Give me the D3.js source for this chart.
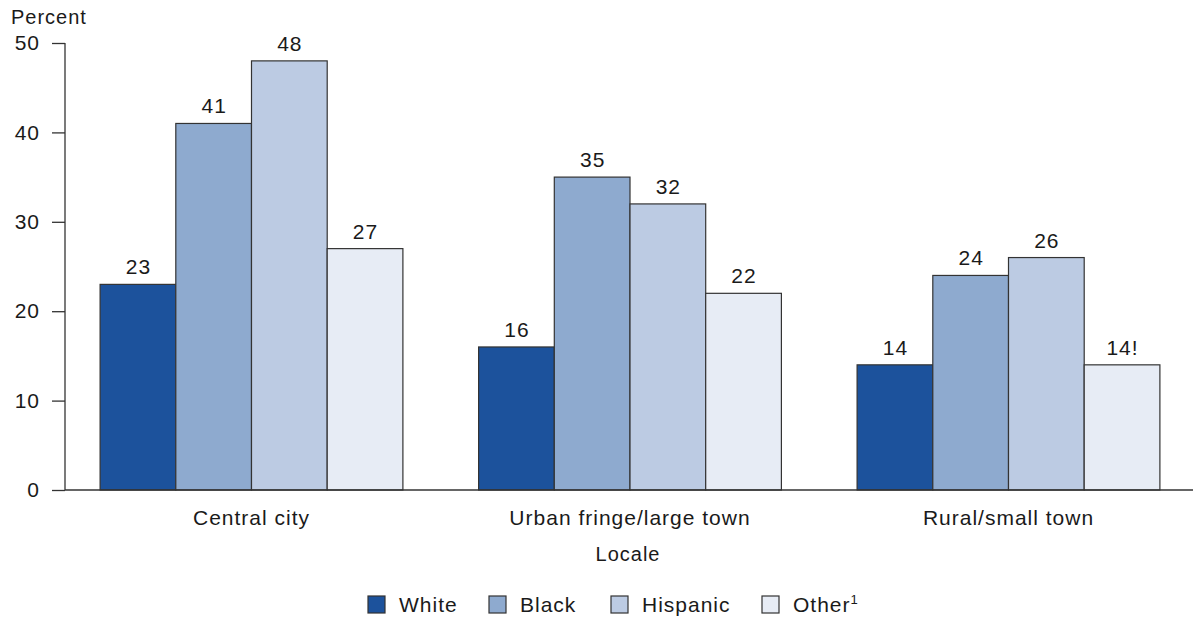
<!DOCTYPE html>
<html><head><meta charset="utf-8">
<script src="https://cdn.jsdelivr.net/npm/d3@7"></script>
<style>body{margin:0;background:#fff}text{font-family:"Liberation Sans",Arial,sans-serif;fill:#1a1a1a;letter-spacing:1px}</style>
</head><body><svg id="c" width="1193" height="617"></svg>
<script>
const categories = ["Central city", "Urban fringe/large town", "Rural/small town"];
const seriesNames = ["White", "Black", "Hispanic", "Other"];
const white = [23, 16, 14];
const black = [41, 35, 24];
const hispanic = [48, 32, 26];
const other = [27, 22, 14];
const valueLabels = [["23","41","48","27"],["16","35","32","22"],["14","24","26","14!"]];
const yTicks = [0, 10, 20, 30, 40, 50];
const colors = ["#1c529c", "#8eaacf", "#bccbe3", "#e7ecf5"];

const series = [white, black, hispanic, other];
const svg = d3.select("#c");
const x0 = d3.scaleBand().domain(categories).range([62.25, 1197.75]).paddingInner(0.2).paddingOuter(0.1);
const x1 = d3.scaleBand().domain(seriesNames).range([0, x0.bandwidth()]);
const y = d3.scaleLinear().domain([0, 50]).range([490, 43]);

// bars
categories.forEach((c, ci) => {
  const g = svg.append("g").attr("transform", `translate(${x0(c)},0)`);
  seriesNames.forEach((s, si) => {
    const v = series[si][ci];
    g.append("rect").attr("x", x1(s)).attr("y", y(v)).attr("width", x1.bandwidth()).attr("height", y(0) - y(v))
      .attr("fill", colors[si]).attr("stroke", "#333").attr("stroke-width", 1.2);
    g.append("text").attr("x", x1(s) + x1.bandwidth()/2 + 0.5).attr("y", y(v) - 10).attr("text-anchor", "middle")
      .attr("font-size", 21).text(valueLabels[ci][si]);
  });
});

// y axis
const ya = svg.append("g").attr("transform", "translate(65,0)")
  .call(d3.axisLeft(y).tickValues(yTicks).tickSize(13).tickPadding(12));
ya.select(".domain").attr("stroke", "#333").attr("stroke-width", 1.3).attr("d", `M0,${y(50)}V${y(0)}`);
ya.selectAll(".tick line").attr("stroke", "#333").attr("stroke-width", 1.3);
ya.selectAll(".tick text").attr("font-size", 21).attr("font-family", "Liberation Sans, Arial, sans-serif").attr("fill", "#1a1a1a");
// baseline
svg.append("line").attr("x1", 65).attr("x2", 1193).attr("y1", y(0)).attr("y2", y(0)).attr("stroke", "#333").attr("stroke-width", 1.5);

svg.append("text").attr("x", 11).attr("y", 24).attr("font-size", 20).text("Percent");

// x labels
const xa = svg.append("g").attr("transform", `translate(0,${y(0)})`).call(d3.axisBottom(x0).tickSize(0).tickPadding(20));
xa.select(".domain").remove();
xa.selectAll(".tick text").attr("font-size", 21).attr("font-family", "Liberation Sans, Arial, sans-serif").attr("fill", "#1a1a1a");
svg.append("text").attr("x", 628).attr("y", 561).attr("text-anchor", "middle").attr("font-size", 20).text("Locale");

// legend
const legX = [368, 489, 611, 762];
seriesNames.forEach((s, i) => {
  const g = svg.append("g").attr("transform", `translate(${legX[i]},596)`);
  g.append("rect").attr("width", 17).attr("height", 17).attr("fill", colors[i]).attr("stroke", "#333").attr("stroke-width", 1.2);
  const t = g.append("text").attr("x", 31).attr("y", 16).attr("font-size", 21).text(s);
  if (s === "Other") t.append("tspan").attr("font-size", 13).attr("dy", -8).text("1");
});
</script></body></html>
